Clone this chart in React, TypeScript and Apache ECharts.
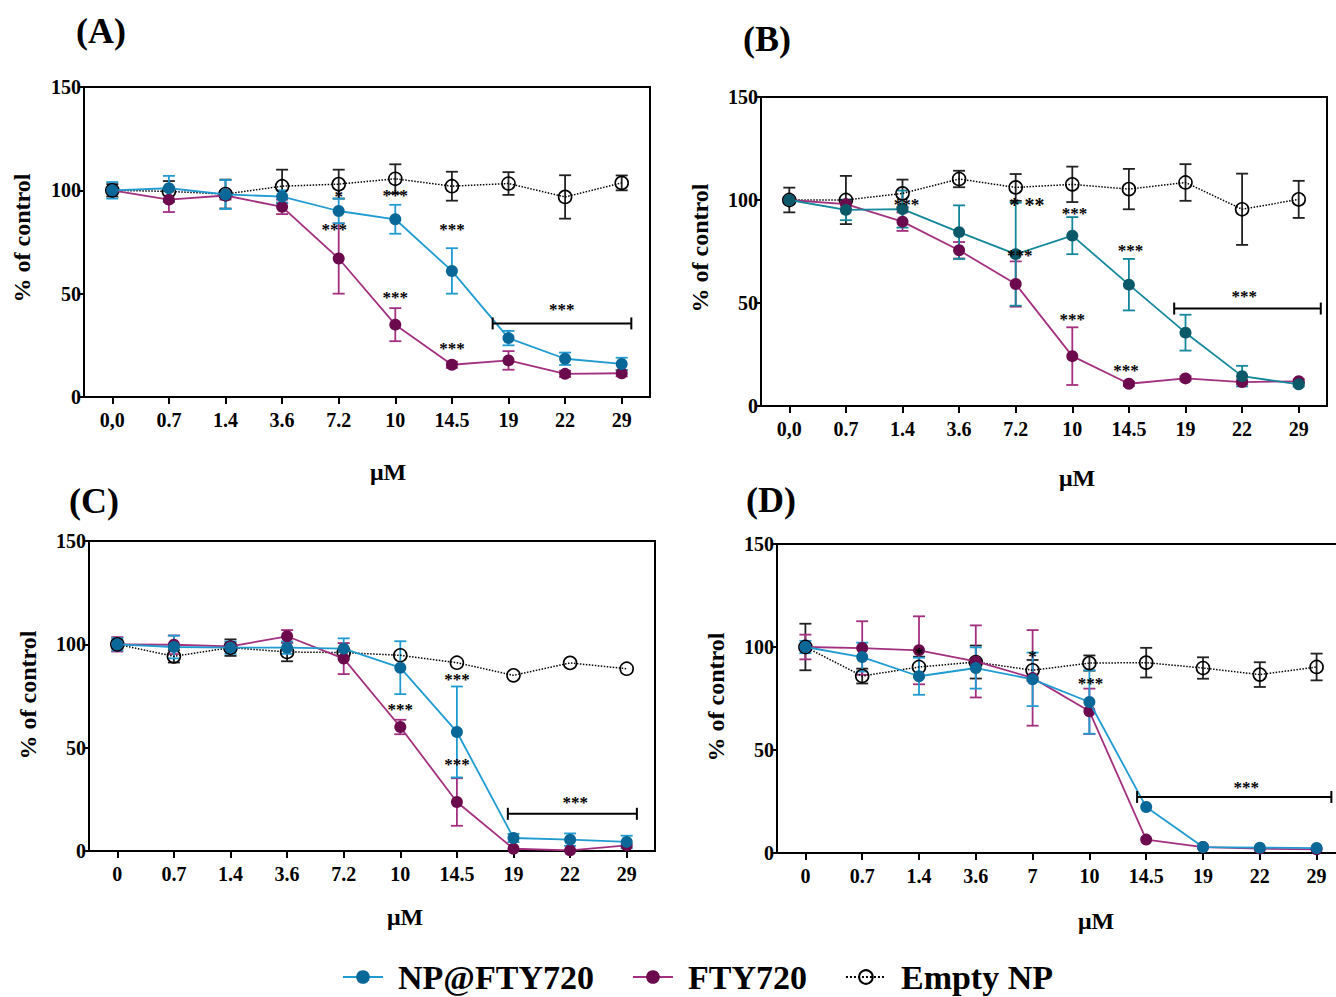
import React, { useEffect, useRef } from 'react';
import * as echarts from 'echarts';

const FONT = "'Liberation Serif', 'Times New Roman', serif";

// Category (concentration) labels
const catsAB = ['0,0', '0.7', '1.4', '3.6', '7.2', '10', '14.5', '19', '22', '29'];
const catsC = ['0', '0.7', '1.4', '3.6', '7.2', '10', '14.5', '19', '22', '29'];
const catsD = ['0', '0.7', '1.4', '3.6', '7', '10', '14.5', '19', '22', '29'];
const yTicks = [0, 50, 100, 150];

// Panel A
const npA = [100, 101, 98, 97, 90, 86, 61, 28.5, 18.5, 16];
const npAErr = [4, 6, 7, 3, 6, 7, 11, 3.5, 3, 3];
const ftyA = [100, 95.5, 97.5, 92, 67, 35, 15.6, 17.7, 11.2, 11.5];
const ftyAErr = [1, 6, 2, 3.5, 17, 8, 1.5, 4.5, 1.5, 1.5];
const emptyA = [100, 99.5, 98.2, 102, 103, 105.6, 102, 103.3, 96.8, 103.6];
const emptyAErr = [3, 5, 7, 8, 7, 7, 7, 5.5, 10.5, 3.6];
const starsA: [number, number, string][] = [[5, 99, '***'], [3.92, 82.7, '***'], [6, 82.7, '***'], [5, 49.8, '***'], [6, 24.9, '***'], [7.94, 43.8, '***'], [4, 98.5, '*']];
const bracketA = [6.72, 9.17, 35.6];

// Panel B
const npB = [100, 95.2, 95.6, 84.4, 73.7, 82.7, 58.9, 35.6, 14.5, 10.5];
const npBErr = [1, 5, 9, 13, 25, 9, 12.5, 8.7, 5, 1];
const ftyB = [100, 98, 89.5, 75.6, 59.2, 24.2, 10.8, 13.4, 11.6, 12];
const ftyBErr = [1, 2, 4.5, 4, 11, 14, 1, 1, 1, 1];
const emptyB = [100, 100, 103.2, 110.2, 106.1, 107.6, 105.3, 108.5, 95.5, 100.3];
const emptyBErr = [6, 11.7, 6.7, 4, 6.5, 8.6, 9.8, 8.9, 17.3, 9];
const starsB: [number, number, string][] = [[2.07, 99.2, '***'], [4.2, 99.2, '* **'], [4.07, 74.5, '***'], [5.04, 94.8, '***'], [6.03, 76.9, '***'], [5, 43.4, '***'], [5.95, 18.5, '***'], [8.04, 54.5, '***']];
const bracketB = [6.8, 9.39, 47.3];

// Panel C
const npC = [100, 98.7, 98.4, 98.4, 97.9, 88.7, 57.6, 6.3, 5.5, 4.4];
const npCErr = [3, 5.5, 3, 3, 5, 12.8, 22, 2, 3, 3];
const ftyC = [100, 99.8, 99, 103.9, 93.1, 60, 23.7, 1.1, 0.3, 2.7];
const ftyCErr = [3.5, 4.5, 2, 3, 7.5, 3.5, 11.5, 0, 0, 0];
const emptyC = [100, 94.2, 98.4, 96.3, 96, 94.7, 91.1, 85, 91, 88.2];
const emptyCErr = [2, 3, 4, 4.5, 2, 0, 0, 0, 0, 0];
const starsC: [number, number, string][] = [[5, 69.7, '***'], [6, 84.2, '***'], [6, 43.4, '***'], [8.09, 24.8, '***']];
const bracketC = [6.9, 9.18, 18];

// Panel D
const npD = [100, 95.1, 85.8, 89.8, 84.3, 73.3, 22.3, 2.9, 2.6, 2.4];
const npDErr = [3, 7, 9, 10, 13, 15.4, 0, 0, 0, 0];
const ftyD = [100, 99.5, 98.4, 93, 85, 68.8, 6.5, 2.9, 2.1, 1.8];
const ftyDErr = [6, 13, 16.5, 17.5, 23.2, 11, 0, 0, 0, 0];
const emptyD = [100, 85.9, 90.3, 92.7, 88.7, 92.2, 92.4, 89.8, 86.6, 90.3];
const emptyDErr = [11.3, 3.6, 5, 8, 5, 3.7, 7.2, 5.2, 6, 6.5];
const starsD: [number, number, string][] = [[2, 98.4, '*'], [4, 96.8, '*'], [5.02, 83.5, '***'], [7.76, 33.2, '***']];
const bracketD = [5.84, 9.26, 27.2];

const NP = 'NP@FTY720';
const FTY = 'FTY720';
const EMPTY = 'Empty NP';

type Panel = {
  cats: string[];
  np: number[]; npErr: number[];
  fty: number[]; ftyErr: number[];
  empty: number[]; emptyErr: number[];
  stars: [number, number, string][];
  bracket: number[];
  grid: { left: number; top: number; width: number; height: number };
  npLine: string; npMarker: string;
  title: string; titlePos: [number, number];
  yNamePos: [number, number]; xNamePos: [number, number];
};

const panels: Panel[] = [
  { cats: catsAB, np: npA, npErr: npAErr, fty: ftyA, ftyErr: ftyAErr, empty: emptyA, emptyErr: emptyAErr, stars: starsA, bracket: bracketA,
    grid: { left: 84, top: 87, width: 566, height: 310 }, npLine: '#1f9bd1', npMarker: '#0a6898',
    title: '(A)', titlePos: [101, 31], yNamePos: [22, 238], xNamePos: [388, 472] },
  { cats: catsAB, np: npB, npErr: npBErr, fty: ftyB, ftyErr: ftyBErr, empty: emptyB, emptyErr: emptyBErr, stars: starsB, bracket: bracketB,
    grid: { left: 761, top: 97, width: 566, height: 309 }, npLine: '#13879b', npMarker: '#0a5868',
    title: '(B)', titlePos: [767, 39], yNamePos: [700, 248], xNamePos: [1077, 478] },
  { cats: catsC, np: npC, npErr: npCErr, fty: ftyC, ftyErr: ftyCErr, empty: emptyC, emptyErr: emptyCErr, stars: starsC, bracket: bracketC,
    grid: { left: 89, top: 541, width: 566, height: 310 }, npLine: '#1f9bd1', npMarker: '#0a6898',
    title: '(C)', titlePos: [94, 501], yNamePos: [28, 695], xNamePos: [405, 917] },
  { cats: catsD, np: npD, npErr: npDErr, fty: ftyD, ftyErr: ftyDErr, empty: emptyD, emptyErr: emptyDErr, stars: starsD, bracket: bracketD,
    grid: { left: 777, top: 544, width: 568, height: 309 }, npLine: '#1f9bd1', npMarker: '#0a6898',
    title: '(D)', titlePos: [771, 500], yNamePos: [716, 697], xNamePos: [1096, 921] },
];

const FTY_LINE = '#a3307f';
const FTY_MARKER = '#6b0a4c';

function errSeries(idx: number, vals: number[], errs: number[], color: string) {
  return {
    type: 'custom',
    xAxisIndex: idx, yAxisIndex: idx,
    z: 1,
    silent: true,
    encode: { x: 0, y: 1 },
    data: vals.map((v, i) => [i, v, errs[i]]),
    renderItem: (params: any, api: any) => {
      const i = api.value(0);
      const v = api.value(1);
      const e = api.value(2);
      if (!e) return null;
      const top = api.coord([i, v + e]);
      const bot = api.coord([i, v - e]);
      const hw = 6;
      const style = { stroke: color, lineWidth: 1.8, fill: null };
      return {
        type: 'group',
        children: [
          { type: 'line', shape: { x1: top[0], y1: top[1], x2: bot[0], y2: bot[1] }, style },
          { type: 'line', shape: { x1: top[0] - hw, y1: top[1], x2: top[0] + hw, y2: top[1] }, style },
          { type: 'line', shape: { x1: bot[0] - hw, y1: bot[1], x2: bot[0] + hw, y2: bot[1] }, style },
        ],
      };
    },
  };
}

function starSeries(idx: number, stars: [number, number, string][]) {
  return {
    type: 'custom',
    xAxisIndex: idx, yAxisIndex: idx,
    z: 5,
    silent: true,
    encode: { x: 0, y: 1 },
    data: stars.map((s) => [0, s[1], s[0]]),
    renderItem: (params: any, api: any) => {
      const y = api.value(1);
      const xf = api.value(2);
      const p = api.coord([0, y]);
      const bw = api.size([1, 0])[0];
      const txt = stars[params.dataIndex][2];
      const size = txt === '* **' ? 20 : 17;
      return {
        type: 'text',
        x: p[0] + xf * bw,
        y: p[1] + 3,
        style: {
          text: txt, fill: '#000', font: `bold ${size}px ${FONT}`,
          textAlign: 'center', textVerticalAlign: 'middle', align: 'center', verticalAlign: 'middle',
        },
      };
    },
  };
}

function bracketSeries(idx: number, b: number[]) {
  return {
    type: 'custom',
    xAxisIndex: idx, yAxisIndex: idx,
    z: 5,
    silent: true,
    encode: { x: 0, y: 1 },
    data: [[0, b[2], b[0], b[1]]],
    renderItem: (params: any, api: any) => {
      const y = api.value(1);
      const p = api.coord([0, y]);
      const bw = api.size([1, 0])[0];
      const x1 = p[0] + api.value(2) * bw;
      const x2 = p[0] + api.value(3) * bw;
      const style = { stroke: '#000', lineWidth: 2, fill: null };
      return {
        type: 'group',
        children: [
          { type: 'line', shape: { x1, y1: p[1], x2, y2: p[1] }, style },
          { type: 'line', shape: { x1, y1: p[1] - 6, x2: x1, y2: p[1] + 6 }, style },
          { type: 'line', shape: { x1: x2, y1: p[1] - 6, x2, y2: p[1] + 6 }, style },
        ],
      };
    },
  };
}

export default function App() {
  const ref = useRef<HTMLDivElement>(null);
  useEffect(() => {
    if (!ref.current) return;
    const chart = echarts.init(ref.current, undefined, { renderer: 'svg' });
    const grids: any[] = [];
    const xAxes: any[] = [];
    const yAxes: any[] = [];
    const series: any[] = [];
    const graphics: any[] = [];

    panels.forEach((p, idx) => {
      grids.push({ ...p.grid, show: true, borderColor: '#000', borderWidth: 2, backgroundColor: 'transparent', containLabel: false });
      xAxes.push({
        type: 'category', gridIndex: idx, data: p.cats, boundaryGap: true,
        axisLine: { show: true, lineStyle: { color: '#000', width: 2 } },
        axisTick: { show: true, alignWithLabel: true, length: 7, lineStyle: { color: '#000', width: 2 } },
        axisLabel: { color: '#000', fontFamily: FONT, fontWeight: 'bold', fontSize: 20, margin: 13, interval: 0 },
        splitLine: { show: false },
      });
      yAxes.push({
        type: 'value', gridIndex: idx, min: yTicks[0], max: yTicks[yTicks.length - 1], interval: 50,
        axisLine: { show: true, lineStyle: { color: '#000', width: 2 } },
        axisTick: { show: true, length: 5, lineStyle: { color: '#000', width: 2 } },
        axisLabel: { color: '#000', fontFamily: FONT, fontWeight: 'bold', fontSize: 20, margin: 3 },
        splitLine: { show: false },
      });

      series.push(errSeries(idx, p.empty, p.emptyErr, '#222'));
      series.push(errSeries(idx, p.fty, p.ftyErr, FTY_LINE));
      series.push(errSeries(idx, p.np, p.npErr, p.npLine));

      series.push({
        name: EMPTY, type: 'line', xAxisIndex: idx, yAxisIndex: idx, z: 2,
        data: p.empty, symbol: 'circle', symbolSize: 13,
        itemStyle: { color: 'rgba(255,255,255,0)', borderColor: '#000', borderWidth: 1.6 },
        lineStyle: { color: '#000', width: 1.5, type: 'dotted' },
      });
      series.push({
        name: FTY, type: 'line', xAxisIndex: idx, yAxisIndex: idx, z: 3,
        data: p.fty, symbol: 'circle', symbolSize: 12,
        itemStyle: { color: FTY_MARKER, borderColor: FTY_MARKER, borderWidth: 0 },
        lineStyle: { color: FTY_LINE, width: 1.8 },
      });
      series.push({
        name: NP, type: 'line', xAxisIndex: idx, yAxisIndex: idx, z: 4,
        data: p.np, symbol: 'circle', symbolSize: 12,
        itemStyle: { color: p.npMarker, borderColor: p.npMarker, borderWidth: 0 },
        lineStyle: { color: p.npLine, width: 1.8 },
      });
      series.push(starSeries(idx, p.stars));
      series.push(bracketSeries(idx, p.bracket));

      graphics.push({
        type: 'text', x: p.titlePos[0], y: p.titlePos[1],
        style: { text: p.title, font: `bold 36px ${FONT}`, fill: '#000', textAlign: 'center', textVerticalAlign: 'middle' },
      });
      graphics.push({
        type: 'text', x: p.yNamePos[0], y: p.yNamePos[1], rotation: Math.PI / 2,
        style: { text: '% of control', font: `bold 24px ${FONT}`, fill: '#000', textAlign: 'center', textVerticalAlign: 'middle' },
      });
      graphics.push({
        type: 'text', x: p.xNamePos[0], y: p.xNamePos[1],
        style: { text: 'μM', font: `bold 24px ${FONT}`, fill: '#000', textAlign: 'center', textVerticalAlign: 'middle' },
      });
    });

    chart.setOption({
      animation: false,
      backgroundColor: '#fff',
      grid: grids,
      xAxis: xAxes,
      yAxis: yAxes,
      series,
      graphic: graphics,
      legend: {
        data: [NP, FTY, EMPTY],
        left: 337, top: 955,
        itemWidth: 40, itemHeight: 17, itemGap: 38,
        selectedMode: false,
        textStyle: { fontFamily: FONT, fontWeight: 'bold', fontSize: 34, color: '#000', padding: [0, 0, 0, 10] },
      },
    });
    return () => chart.dispose();
  }, []);
  return (
    <div style={{ position: 'absolute', left: 0, top: 0, width: 1336, height: 997, overflow: 'hidden' }}>
      <div ref={ref} style={{ position: 'absolute', left: 0, top: 0, width: 1360, height: 997 }} />
    </div>
  );
}
